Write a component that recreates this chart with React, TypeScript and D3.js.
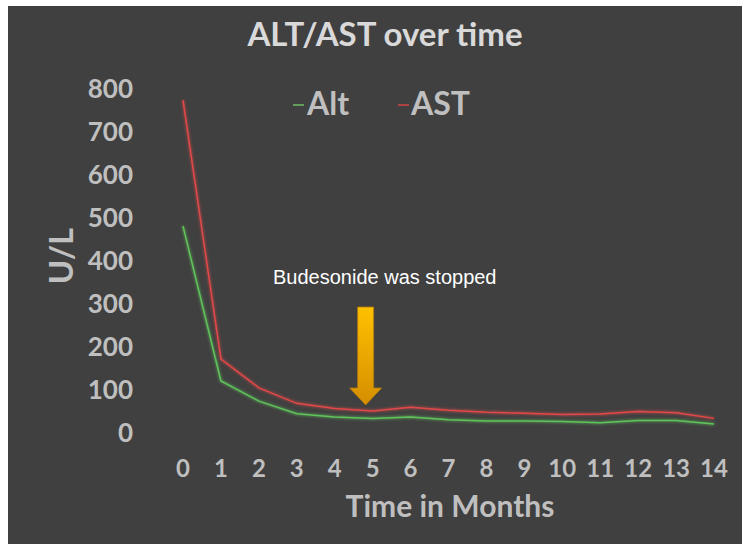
import React, { useRef, useEffect } from 'react';
import * as d3 from 'd3';

const months = [0, 1, 2, 3, 4, 5, 6, 7, 8, 9, 10, 11, 12, 13, 14];
const altValues = [481, 121, 74, 45, 37, 34, 37, 31, 28, 28, 27, 24, 29, 29, 21];
const astValues = [774, 172, 105, 69, 57, 51, 60, 53, 48, 46, 43, 44, 50, 47, 34];
const yTicks = [0, 100, 200, 300, 400, 500, 600, 700, 800];

const W = 742;
const H = 544;

export default function App() {
  const svgRef = useRef<SVGSVGElement>(null);

  useEffect(() => {
    const svg = d3.select(svgRef.current);
    svg.selectAll('*').remove();

    const defs = svg.append('defs');
    const grad = defs.append('linearGradient')
      .attr('id', 'arrowGrad')
      .attr('x1', 0).attr('y1', 0).attr('x2', 0).attr('y2', 1);
    grad.append('stop').attr('offset', '0%').attr('stop-color', '#ffc000');
    grad.append('stop').attr('offset', '100%').attr('stop-color', '#d58e00');

    const glow = defs.append('filter').attr('id', 'glow')
      .attr('x', '-10%').attr('y', '-10%').attr('width', '120%').attr('height', '120%');
    glow.append('feGaussianBlur').attr('in', 'SourceGraphic').attr('stdDeviation', 1.6).attr('result', 'b');
    const merge = glow.append('feMerge');
    merge.append('feMergeNode').attr('in', 'b');
    merge.append('feMergeNode').attr('in', 'SourceGraphic');

    // background panel
    svg.append('rect').attr('x', 0).attr('y', 0).attr('width', W).attr('height', H).attr('fill', '#ffffff');
    svg.append('rect').attr('x', 8).attr('y', 6).attr('width', W - 8).attr('height', H - 6).attr('fill', '#404040');

    const x = d3.scaleLinear().domain([0, 14]).range([183, 714]);
    const y = d3.scaleLinear().domain([0, 800]).range([433, 89]);

    const font = 'Lato, "Open Sans", sans-serif';

    // title
    svg.append('text')
      .attr('x', 385).attr('y', 46)
      .attr('text-anchor', 'middle')
      .attr('font-family', font)
      .attr('font-weight', 'bold')
      .attr('font-size', 33)
      .attr('fill', '#d9d9d9')
      .text('ALT/AST over time');

    // y ticks
    svg.append('g').selectAll('text')
      .data(yTicks)
      .join('text')
      .attr('x', 133)
      .attr('y', d => y(d))
      .attr('dy', '0.35em')
      .attr('text-anchor', 'end')
      .attr('font-family', font)
      .attr('font-weight', 'bold')
      .attr('font-size', 26)
      .attr('fill', '#bfbfbf')
      .text(d => d);

    // x ticks
    svg.append('g').selectAll('text')
      .data(months)
      .join('text')
      .attr('x', d => x(d))
      .attr('y', 477)
      .attr('text-anchor', 'middle')
      .attr('font-family', font)
      .attr('font-weight', 'bold')
      .attr('font-size', 24)
      .attr('fill', '#bfbfbf')
      .text(d => d);

    // axis titles
    svg.append('text')
      .attr('transform', 'translate(73,256) rotate(-90)')
      .attr('text-anchor', 'middle')
      .attr('font-family', font)
      .attr('font-weight', 'bold')
      .attr('font-size', 33)
      .attr('fill', '#bfbfbf')
      .text('U/L');

    svg.append('text')
      .attr('x', 450).attr('y', 517)
      .attr('text-anchor', 'middle')
      .attr('font-family', font)
      .attr('font-weight', 'bold')
      .attr('font-size', 30)
      .attr('fill', '#bfbfbf')
      .text('Time in Months');

    // legend
    const legend = [
      { name: 'Alt', color: '#6fbf63', lx: 293, tx: 307 },
      { name: 'AST', color: '#d04545', lx: 398, tx: 411 },
    ];
    legend.forEach(l => {
      svg.append('line')
        .attr('x1', l.lx).attr('x2', l.lx + 11)
        .attr('y1', 105).attr('y2', 105)
        .attr('stroke', l.color).attr('stroke-width', 1.5);
      svg.append('text')
        .attr('x', l.tx).attr('y', 115)
        .attr('font-family', font)
        .attr('font-weight', 'bold')
        .attr('font-size', 32)
        .attr('fill', '#bfbfbf')
        .text(l.name);
    });

    // lines
    const line = d3.line<number>()
      .x((_, i) => x(months[i]))
      .y(d => y(d));

    svg.append('path')
      .datum(astValues)
      .attr('d', line)
      .attr('fill', 'none')
      .attr('stroke', '#e04848')
      .attr('stroke-width', 1.5)
      .attr('filter', 'url(#glow)');

    svg.append('path')
      .datum(altValues)
      .attr('d', line)
      .attr('fill', 'none')
      .attr('stroke', '#5fc25a')
      .attr('stroke-width', 1.5)
      .attr('filter', 'url(#glow)');

    // annotation
    svg.append('text')
      .attr('x', 273).attr('y', 284)
      .attr('font-family', '"Liberation Sans", Arial, sans-serif')
      .attr('font-size', 20)
      .attr('fill', '#ffffff')
      .text('Budesonide was stopped');

    const ax = x(5) - 7;
    const arrow = d3.path();
    arrow.moveTo(ax - 8, 307);
    arrow.lineTo(ax + 8, 307);
    arrow.lineTo(ax + 8, 388);
    arrow.lineTo(ax + 16, 388);
    arrow.lineTo(ax, 405);
    arrow.lineTo(ax - 16, 388);
    arrow.lineTo(ax - 8, 388);
    arrow.closePath();
    svg.append('path')
      .attr('d', arrow.toString())
      .attr('fill', 'url(#arrowGrad)')
      .attr('stroke', '#b07a10')
      .attr('stroke-width', 0.8);
  }, []);

  return (
    <svg ref={svgRef} width={W} height={H} style={{ position: 'absolute', left: 0, top: 0 }} />
  );
}
